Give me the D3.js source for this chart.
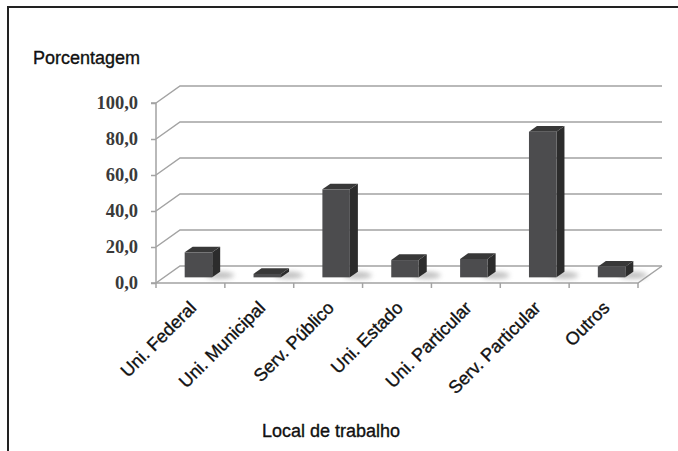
<!DOCTYPE html>
<html>
<head>
<meta charset="utf-8">
<script src="https://cdn.jsdelivr.net/npm/d3@7"></script>
<style>
  html, body { margin: 0; padding: 0; background: #fff; }
  svg { display: block; }
</style>
</head>
<body>
<svg id="chart" width="678" height="451"></svg>
<script>
// Local de trabalho (percentages)
const categories = ["Uni. Federal", "Uni. Municipal", "Serv. Público", "Uni. Estado",
                    "Uni. Particular", "Serv. Particular", "Outros"];
const values = [13.9, 1.9, 48.9, 9.6, 10.2, 80.9, 5.9];
const yTicks = [0, 20, 40, 60, 80, 100];
const yTitle = "Porcentagem";
const xTitle = "Local de trabalho";

const svg = d3.select("#chart");

// 3D box geometry (oblique projection)
const floorFront = 283, plotTop = 103;
const left = 156, right = 638;
const DX = 24, DY = -17;          // depth of the walls/floor
const barDX = 8, barDY = -5.7;    // depth of each bar
const barW = 27.5;

const x = d3.scaleBand().domain(categories).range([left, right]).padding(0);
const y = d3.scaleLinear().domain([0, 100]).range([floorFront, plotTop]);

const sans = "'Liberation Sans', Arial, sans-serif";

// frame
svg.append("path").attr("d", "M8,451 V7 H678")
  .attr("fill", "none").attr("stroke", "#222").attr("stroke-width", 2);

const defs = svg.append("defs");
defs.append("filter").attr("id", "soft").attr("x", "-50%").attr("y", "-50%")
  .attr("width", "200%").attr("height", "200%")
  .append("feGaussianBlur").attr("stdDeviation", 2.5);

// back wall gridlines with their diagonal on the left wall
const grid = svg.append("g").attr("fill", "none").attr("stroke", "#a3a3a3").attr("stroke-width", 1.5);
yTicks.forEach(t => {
  const yy = y(t);
  grid.append("path").attr("d", `M${left},${yy} L${left + DX},${yy + DY} H${right + DX}`);
});
// floor front edge and right edge
grid.append("path").attr("d", `M${left},${floorFront} H${right} L${right + DX},${floorFront + DY}`);

// value axis (front)
const yAxis = d3.axisLeft(y).tickValues(yTicks).tickSize(5).tickPadding(13)
  .tickFormat(d => d3.format(".1f")(d).replace(".", ","));
const ya = svg.append("g").attr("transform", `translate(${left},0)`).call(yAxis);
ya.select(".domain").attr("stroke", "#a3a3a3").attr("stroke-width", 1.5).attr("d", `M-5,${plotTop}H0V${floorFront}H-5`);
ya.selectAll(".tick line").attr("stroke", "#a3a3a3").attr("stroke-width", 1.5);
ya.selectAll(".tick text")
  .attr("font-family", "'Liberation Serif', 'DejaVu Serif', serif")
  .attr("font-size", 18.5).attr("font-weight", "bold").attr("fill", "#3a3a3a");

// category tick marks on the floor front edge
const catTicks = categories.map(c => x(c)).concat([right]);
svg.append("g").selectAll("line").data(catTicks).join("line")
  .attr("x1", d => d).attr("x2", d => d)
  .attr("y1", floorFront).attr("y2", floorFront + 5)
  .attr("stroke", "#a3a3a3").attr("stroke-width", 1.5);

// bars
const bars = svg.append("g");
const frontBaseY = floorFront + DY / 2 - barDY / 2;
categories.forEach((c, i) => {
  const v = values[i];
  const cx = x(c) + x.bandwidth() / 2 + DX / 2 - barDX / 2;
  const fx = cx - barW / 2;
  const h = y(0) - y(v);
  const b = frontBaseY, t = b - h;

  // soft shadow on the floor
  bars.append("ellipse")
    .attr("cx", fx + barW + 8).attr("cy", b - 2)
    .attr("rx", 14).attr("ry", 3.5)
    .attr("fill", "#8a8a8a").attr("opacity", 0.55)
    .attr("filter", "url(#soft)");

  // side face
  bars.append("polygon")
    .attr("points", [[fx + barW, b], [fx + barW + barDX, b + barDY],
                     [fx + barW + barDX, t + barDY], [fx + barW, t]].join(" "))
    .attr("fill", "#2c2c2c");
  // top face
  bars.append("polygon")
    .attr("points", [[fx, t], [fx + barDX, t + barDY],
                     [fx + barW + barDX, t + barDY], [fx + barW, t]].join(" "))
    .attr("fill", "#383838");
  // front face
  bars.append("rect")
    .attr("x", fx).attr("y", t).attr("width", barW).attr("height", h)
    .attr("fill", "#4c4c4e");
});

// category labels, rotated
svg.append("g").selectAll("text").data(categories).join("text")
  .attr("transform", d => `translate(${x(d) + x.bandwidth() / 2 + 7},${309}) rotate(-45)`)
  .attr("text-anchor", "end")
  .attr("font-family", sans)
  .attr("font-size", 18)
  .attr("fill", "#111").attr("stroke", "#111").attr("stroke-width", 0.35)
  .text(d => d);

// titles
svg.append("text").attr("x", 33).attr("y", 64)
  .attr("font-family", sans)
  .attr("font-size", 18).attr("fill", "#111").attr("stroke", "#111").attr("stroke-width", 0.35)
  .text(yTitle);

svg.append("text").attr("x", 331).attr("y", 437).attr("text-anchor", "middle")
  .attr("font-family", sans)
  .attr("font-size", 18).attr("fill", "#111").attr("stroke", "#111").attr("stroke-width", 0.35)
  .text(xTitle);
</script>
</body>
</html>
